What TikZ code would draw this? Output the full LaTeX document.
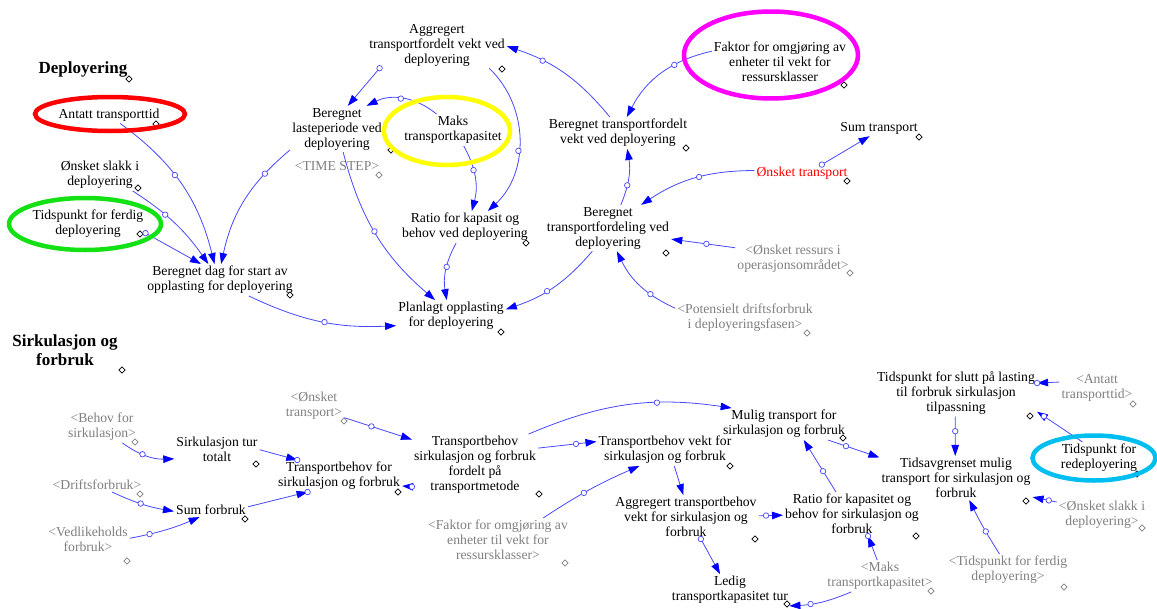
\documentclass[tikz,border=0pt]{standalone}
\usepackage{fontspec}
\setmainfont{Liberation Serif}
\usetikzlibrary{shapes.geometric,arrows.meta}

\definecolor{linkblue}{RGB}{72,72,255}
\definecolor{tipblue}{RGB}{0,0,255}
\definecolor{shadowgrey}{RGB}{128,128,128}
\definecolor{ringred}{RGB}{255,0,0}
\definecolor{ringgreen}{RGB}{20,225,20}
\definecolor{ringyellow}{RGB}{255,255,0}
\definecolor{ringmagenta}{RGB}{255,0,255}
\definecolor{ringcyan}{RGB}{0,190,240}

\tikzset{
  var/.style={align=center, inner sep=2pt, font=\fontsize{13.7}{15}\selectfont, text=black},
  shadowvar/.style={var, text=shadowgrey},
  heading/.style={align=center, inner sep=1pt, font=\fontsize{17}{19}\selectfont\bfseries},
  link/.style={draw=linkblue, line width=0.8pt, -{Triangle[length=11pt,width=7.5pt,color=tipblue]}},
  hdl/.style={circle, draw=linkblue, fill=white, inner sep=0pt, minimum size=5.5pt, line width=0.7pt},
  cmark/.style={diamond, draw=black, fill=white, inner sep=0pt, minimum size=6.5pt, line width=0.6pt},
  gmark/.style={cmark, draw=shadowgrey},
  ring/.style={ellipse, line width=4.5pt, inner sep=0pt},
}

\begin{document}
\begin{tikzpicture}[x=1pt,y=-1pt]
\useasboundingbox (0,0) rectangle (1157,608);
\fill[white] (0,0) rectangle (1157,608);

% ---------- Deployering ----------
\node[heading] (hdep) at (83,69) {Deployering};
\node[var] (antatt) at (109,115) {Antatt transporttid};
\node[var] (slakk) at (100,175) {Ønsket slakk i\\deployering};
\node[var] (tidferdig) at (88,224) {Tidspunkt for ferdig\\deployering};
\node[var] (berdag) at (220,280) {Beregnet dag for start av\\opplasting for deployering};
\node[var] (berlast) at (337,129) {Beregnet\\lasteperiode ved\\deployering};
\node[shadowvar] (timestep) at (337,166) {<TIME STEP>};
\node[var] (aggr) at (437,45) {Aggregert\\transportfordelt vekt ved\\deployering};
\node[var] (maks) at (453,130) {Maks\\transportkapasitet};
\node[var] (ratiodep) at (465,227) {Ratio for kapasit og\\behov ved deployering};
\node[var] (planlagt) at (451,316) {Planlagt opplasting\\for deployering};
\node[var] (faktor) at (780,62) {Faktor for omgjøring av\\enheter til vekt for\\ressursklasser};
\node[var] (bertfdelt) at (618,133) {Beregnet transportfordelt\\vekt ved deployering};
\node[var] (sumtransport) at (879,128) {Sum transport};
\node[var, text=red] (onsktransp) at (802,173) {Ønsket transport};
\node[var] (bertfdeling) at (608,228) {Beregnet\\transportfordeling ved\\deployering};
\node[shadowvar] (onskressurs) at (793,259) {<Ønsket ressurs i\\operasjonsområdet>};
\node[shadowvar] (potensielt) at (745,318) {<Potensielt driftsforbruk\\i deployeringsfasen>};

% ---------- Sirkulasjon og forbruk ----------
\node[heading] (hsirk) at (65,350) {Sirkulasjon og\\forbruk};
\node[shadowvar] (behov) at (102,427) {<Behov for\\sirkulasjon>};
\node[var] (sirktur) at (217,449) {Sirkulasjon tur\\totalt};
\node[shadowvar] (drift) at (97,485) {<Driftsforbruk>};
\node[var] (sumforbruk) at (211,510) {Sum forbruk};
\node[shadowvar] (vedlik) at (88,539) {<Vedlikeholds\\forbruk>};
\node[var] (tbfor) at (339,476) {Transportbehov for\\sirkulasjon og forbruk};
\node[shadowvar] (onsktr2) at (314,406) {<Ønsket\\transport>};
\node[var] (tbford) at (475,465) {Transportbehov\\sirkulasjon og forbruk\\fordelt på\\transportmetode};
\node[shadowvar] (faktor2) at (498,540) {<Faktor for omgjøring av\\enheter til vekt for\\ressursklasser>};
\node[var] (tbvekt) at (665,450) {Transportbehov vekt for\\sirkulasjon og forbruk};
\node[var] (mulig) at (784,424) {Mulig transport for\\sirkulasjon og forbruk};
\node[var] (aggbehov) at (686,517) {Aggregert transportbehov\\vekt for sirkulasjon og\\forbruk};
\node[var] (ratiokap) at (852,514) {Ratio for kapasitet og\\behov for sirkulasjon og\\forbruk};
\node[var] (ledig) at (730,590) {Ledig\\transportkapasitet tur};
\node[shadowvar] (maks2) at (880,576) {<Maks\\transportkapasitet>};
\node[var] (tidslutt) at (956,393) {Tidspunkt for slutt på lasting\\til forbruk sirkulasjon\\tilpassning};
\node[shadowvar] (antatt2) at (1097,388) {<Antatt\\transporttid>};
\node[var] (redep) at (1099,458) {Tidspunkt for\\redeployering};
\node[var] (tidsavgr) at (956,478) {Tidsavgrenset mulig\\transport for sirkulasjon og\\forbruk};
\node[shadowvar] (slakk2) at (1102,515) {<Ønsket slakk i\\deployering>};
\node[shadowvar] (tidferdig2) at (1008,570) {<Tidspunkt for ferdig\\deployering>};

% ---------- small diamond markers ----------
\node[cmark] (m1) at (129,79) {};
\node[cmark] (m2) at (156,124) {};
\node[cmark] (m3) at (138,188) {};
\node[cmark] (m4) at (140,234) {};
\node[cmark] (m5) at (290,295) {};
\node[cmark] (m6) at (391,150) {};
\node[gmark] (m7) at (379,175) {};
\node[cmark] (m8) at (502,69) {};
\node[cmark] (m9) at (526,243) {};
\node[cmark] (m10) at (501,332) {};
\node[cmark] (m11) at (844,85) {};
\node[cmark] (m12) at (686,148) {};
\node[cmark] (m13) at (919,137) {};
\node[cmark] (m14) at (847,181) {};
\node[cmark] (m15) at (666,253) {};
\node[gmark] (m16) at (850,273) {};
\node[gmark] (m17) at (807,333) {};
\node[cmark] (m18) at (122,370) {};
\node[gmark] (m19) at (135,442) {};
\node[cmark] (m20) at (256,464) {};
\node[gmark] (m21) at (140,494) {};
\node[cmark] (m22) at (245,519) {};
\node[gmark] (m23) at (127,561) {};
\node[cmark] (m24) at (398,492) {};
\node[gmark] (m25) at (344,421) {};
\node[cmark] (m26) at (539,494) {};
\node[gmark] (m27) at (565,563) {};
\node[cmark] (m28) at (730,466) {};
\node[cmark] (m29) at (843,438) {};
\node[cmark] (m30) at (755,539) {};
\node[cmark] (m31) at (916,536) {};
\node[cmark] (m32) at (787,604) {};
\node[gmark] (m33) at (931,591) {};
\node[cmark] (m34) at (1030,416) {};
\node[gmark] (m35) at (1133,404) {};
\node[cmark] (m36) at (1137,474) {};
\node[cmark] (m37) at (1026,501) {};
\node[gmark] (m38) at (1142,528) {};
\node[gmark] (m39) at (1064,587) {};

% ---------- links, upper view ----------
\draw[link] (antatt.-37.6) to[bend left=20] node[hdl,pos=.43] (h1) {} (berdag.109.3);
\draw[link] (slakk.-26.6) to[bend left=11] node[hdl,pos=.37] (h2) {} (berdag.126.9);
\draw[link] (tidferdig.-9.8) -- node[hdl,pos=0] (h3) {} (berdag.140.4);
\draw[link] (berlast.-156.3) to[bend right=19] node[hdl,pos=.24] (h4) {} (berdag.86.8);
\draw[link] (berdag.-29.5) to[bend right=14] node[hdl,pos=.53] (h5) {} (planlagt.190);
\draw[link] (aggr.-158.4) -- node[hdl,pos=0] (h6) {} (berlast.65.4);
\draw[link] (maks.136.5) to[bend right=33] node[hdl,pos=.53] (h7) {} (berlast.38.2);
\draw[link] (berlast.-75.4) to[bend right=17.5] node[hdl,pos=.48] (h8) {} (planlagt.135);
\draw[link] (maks.-56.3) to[bend left=22] node[hdl,pos=.38] (h9) {} (ratiodep.67.8);
\draw[link] (aggr.-24.8) to[bend left=47] node[hdl,pos=.57] (h10) {} (ratiodep.35.1);
\draw[link] (ratiodep.-119.4) to[bend right=19] node[hdl,pos=.43] (h11) {} (planlagt.105.5);
\draw[link] (bertfdeling.-124.7) to[bend left=15.5] node[hdl,pos=.58] (h12) {} (planlagt.7.7);
\draw[link] (bertfdelt.117.8) to[bend right=16] node[hdl,pos=.71] (h13) {} (aggr.-1.7);
\draw[link] (faktor.171.9) to[bend right=25] node[hdl,pos=.35] (h14) {} (bertfdelt.61.4);
\draw[link] (bertfdeling.61.6) to[bend right=16] node[hdl,pos=.35] (h15) {} (bertfdelt.-60.6);
\draw[link] (onsktransp.177.7) to[bend right=16.5] node[hdl,pos=.46] (h16) {} (bertfdeling.35.2);
\draw[link] (onsktransp.23.2) -- node[hdl,pos=0] (h17) {} (sumtransport.-139.8);
\draw[link] (onskressurs.169.3) -- node[hdl,pos=.45] (h18) {} (bertfdeling.-10.6);
\draw[link] (potensielt.172.3) to[bend left=20] node[hdl,pos=.33] (h19) {} (bertfdeling.-69);

% ---------- links, lower view ----------
\draw[link] (behov.-38.3) to[bend right=18.6] node[hdl,pos=.41] (h20) {} (sirktur.-167.8);
\draw[link] (sirktur.-1.5) -- node[hdl,pos=1] (h21) {} (tbfor.159);
\draw[link] (drift.-25.3) to[bend right=7.6] node[hdl,pos=.47] (h22) {} (sumforbruk.-178.3);
\draw[link] (vedlik.1.4) to[bend right=6] node[hdl,pos=.26] (h23) {} (sumforbruk.-148);
\draw[link] (sumforbruk.5) -- node[hdl,pos=1] (h24) {} (tbfor.-153.4);
\draw[link] (onsktr2.-21.2) -- node[hdl,pos=.4] (h25) {} (tbford.158);
\draw[link] (tbford.-161.3) -- node[hdl,pos=0] (h26) {} (tbfor.-9.6);
\draw[link] (tbford.30.7) to[bend left=15.7] node[hdl,pos=.65] (h27) {} (mulig.163);
\draw[link] (tbford.15.7) -- node[hdl,pos=.65] (h28) {} (tbvekt.173.9);
\draw[link] (faktor2.26) to[bend left=5] node[hdl,pos=.43] (h29) {} (tbvekt.-148.7);
\draw[link] (tbvekt.-60.6) -- (aggbehov.97.4);
\draw[link] (aggbehov.1.7) -- node[hdl,pos=.3] (h31) {} (ratiokap.-179);
\draw[link] (aggbehov.-56.3) -- node[hdl,pos=0] (h32) {} (ledig.122);
\draw[link] (ratiokap.126.5) -- node[hdl,pos=.4] (h33) {} (mulig.-39);
\draw[link] (maks2.100) -- node[hdl,pos=1] (h34) {} (ratiokap.-54);
\draw[link] (maks2.-151.9) to[bend left=10] node[hdl,pos=.68] (h35) {} (ledig.-15.4);
\draw[link] (mulig.-20.1) -- node[hdl,pos=.35] (h36) {} (tidsavgr.165.8);
\draw[link] (tidslutt.-92.4) -- node[hdl,pos=.37] (h37) {} (tidsavgr.92.2);
\draw[link] (antatt2.171.6) -- node[hdl,pos=1] (h38) {} (tidslutt.7.5);
\draw[link] (redep.136.7) -- node[hdl,pos=.85] (h39) {} (tidslutt.-13.4);
\draw[link] (slakk2.164.7) -- node[hdl,pos=.33] (h40) {} (tidsavgr.-14.2);
\draw[link] (tidferdig2.118) to[bend left=3] node[hdl,pos=.42] (h41) {} (tidsavgr.-59.3);

% ---------- highlight rings ----------
\node[ring, draw=ringred, minimum width=150pt, minimum height=34pt] (ringa) at (110,114) {};
\node[ring, draw=ringgreen, minimum width=152pt, minimum height=52pt] (ringb) at (85,224) {};
\node[ring, draw=ringyellow, minimum width=126pt, minimum height=68pt] (ringc) at (447,131) {};
\node[ring, draw=ringmagenta, minimum width=174pt, minimum height=87pt] (ringd) at (771,55) {};
\node[ring, draw=ringcyan, minimum width=123pt, minimum height=45pt] (ringe) at (1094,458) {};
\end{tikzpicture}
\end{document}
